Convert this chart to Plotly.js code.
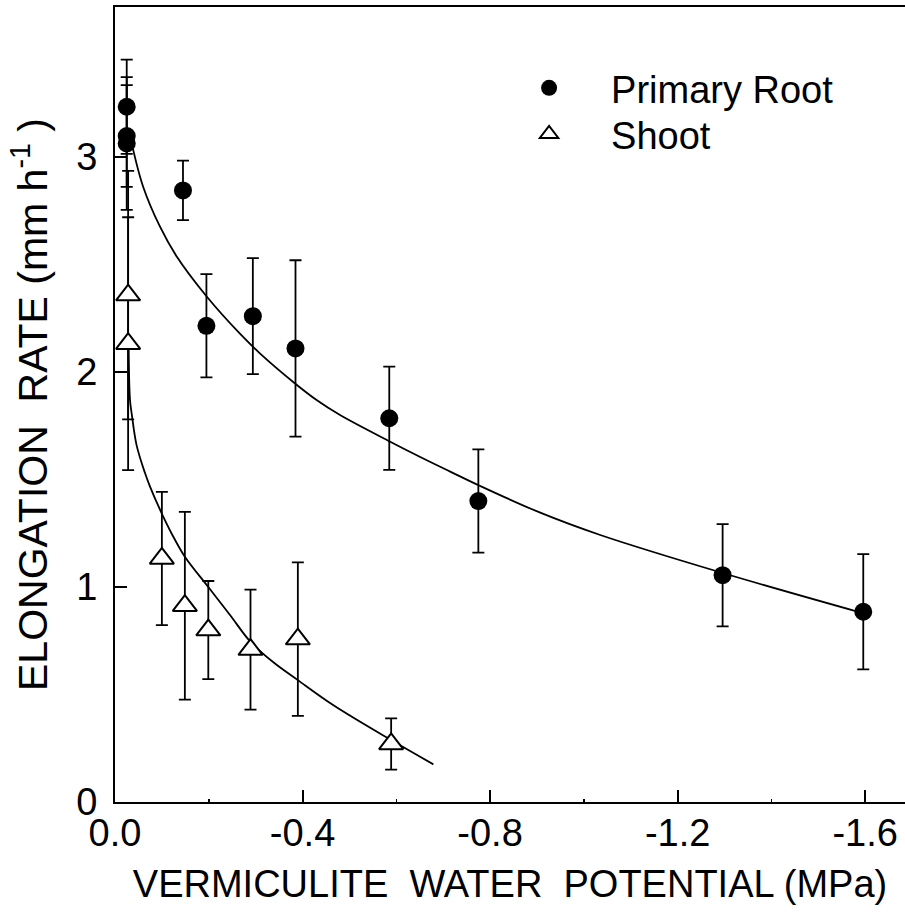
<!DOCTYPE html>
<html>
<head>
<meta charset="utf-8">
<script src="https://cdn.plot.ly/plotly-3.0.1.min.js"></script>
<style>
  html, body { margin: 0; padding: 0; background: #fff; }
  #chart { width: 905px; height: 921px; }
</style>
</head>
<body>
<div id="chart"></div>
<script>
// Primary root elongation rate vs. vermiculite water potential
const rootPsi = [-0.025, -0.025, -0.025, -0.145, -0.195, -0.294, -0.385, -0.585, -0.775, -1.296, -1.596];
const rootRate = [3.234, 3.098, 3.063, 2.845, 2.215, 2.26, 2.11, 1.785, 1.40, 1.055, 0.885];
const rootSE = [0.219, 0.237, 0.309, 0.138, 0.24, 0.27, 0.41, 0.24, 0.24, 0.238, 0.268];

// Shoot elongation rate
const shootPsi = [-0.028, -0.028, -0.10, -0.149, -0.199, -0.289, -0.39, -0.589];
const shootRate = [2.358, 2.132, 1.133, 0.913, 0.80, 0.709, 0.758, 0.270];
const shootSE = [0.578, 0.588, 0.31, 0.437, 0.228, 0.279, 0.357, 0.119];

// Fitted curves
const rootFitPsi = [-0.036, -0.06, -0.096, -0.132, -0.196, -0.267, -0.309, -0.384, -0.43, -0.48, -0.587, -0.651, -0.715, -0.779, -0.907, -1.035, -1.298, -1.596];
const rootFitRate = [3.06, 2.862, 2.676, 2.536, 2.35, 2.177, 2.087, 1.947, 1.87, 1.80, 1.676, 1.605, 1.537, 1.47, 1.346, 1.242, 1.064, 0.878];
const shootFitPsi = [-0.029, -0.032, -0.036, -0.046, -0.064, -0.0747, -0.0996, -0.1244, -0.149, -0.199, -0.2453, -0.289, -0.3378, -0.39, -0.466, -0.589, -0.679];
const shootFitRate = [2.13, 1.87, 1.80, 1.66, 1.53, 1.467, 1.343, 1.234, 1.141, 1.0, 0.87, 0.745, 0.65, 0.567, 0.45, 0.288, 0.175];

// Axis ticks
const xTickVals = [0, -0.4, -0.8, -1.2, -1.6];
const xTickText = ['0.0', '-0.4', '-0.8', '-1.2', '-1.6'];
const xMinorVals = [-0.2, -0.6, -1.0, -1.4];
const yTickVals = [0, 1, 2, 3];
const yTickText = ['0', '1', '2', '3'];

const FONT = 'Liberation Sans, Arial, Helvetica, sans-serif';
const NB = '\u00A0';

const traces = [
  {
    x: rootFitPsi, y: rootFitRate, mode: 'lines', showlegend: false, hoverinfo: 'skip',
    line: { color: '#000', width: 1.8, shape: 'spline', smoothing: 1 }
  },
  {
    x: shootFitPsi, y: shootFitRate, mode: 'lines', showlegend: false, hoverinfo: 'skip',
    line: { color: '#000', width: 1.8, shape: 'spline', smoothing: 1 }
  },
  {
    name: 'Primary Root', x: rootPsi, y: rootRate, mode: 'markers', legend: 'legend',
    marker: { symbol: 'circle', size: 18, color: '#000', line: { width: 0 } },
    error_y: { type: 'data', array: rootSE, visible: true, color: '#000', thickness: 1.8, width: 6 }
  },
  {
    name: 'Shoot', x: shootPsi, y: shootRate, mode: 'markers', legend: 'legend2',
    marker: { symbol: 'triangle-up', size: 21, color: '#fff', line: { color: '#000', width: 2 } },
    error_y: { type: 'data', array: shootSE, visible: true, color: '#000', thickness: 1.8, width: 6 }
  }
];

const legendBase = {
  x: 0.471, xanchor: 'left', yanchor: 'middle',
  bgcolor: 'rgba(0,0,0,0)', borderwidth: 0,
  font: { family: FONT, size: 38, color: '#000' },
  itemwidth: 114
};

const layout = {
  width: 905, height: 921,
  margin: { l: 115, r: 0, t: 7, b: 119 },
  paper_bgcolor: '#fff', plot_bgcolor: '#fff',
  font: { family: FONT, color: '#000', size: 38 },
  showlegend: true,
  legend: Object.assign({ y: 0.898 }, legendBase),
  legend2: Object.assign({ y: 0.840 }, legendBase),
  xaxis: {
    range: [0, -1.685], showgrid: false, zeroline: false,
    showline: true, linecolor: '#000', linewidth: 2, mirror: true,
    ticks: 'inside', ticklen: 12, tickwidth: 2, tickcolor: '#000',
    tickmode: 'array', tickvals: xTickVals, ticktext: xTickText,
    tickfont: { family: FONT, size: 38 }, ticklabelstandoff: -4,
    minor: { tickmode: 'array', tickvals: xMinorVals, ticks: 'inside', ticklen: 3, tickwidth: 1.5, tickcolor: '#000' },
    title: { text: 'VERMICULITE' + NB + ' WATER' + NB + ' POTENTIAL (MPa)', font: { family: FONT, size: 38 }, standoff: 18 }
  },
  yaxis: {
    range: [0, 3.698], showgrid: false, zeroline: false,
    showline: true, linecolor: '#000', linewidth: 2,
    ticks: 'inside', ticklen: 12, tickwidth: 2, tickcolor: '#000',
    tickmode: 'array', tickvals: yTickVals, ticktext: yTickText,
    tickfont: { family: FONT, size: 38 }, ticklabelstandoff: 8,
    title: {
      text: 'ELONGATION' + NB + ' RATE (mm' + NB + 'h<sup>-1</sup>' + NB + ')',
      font: { family: FONT, size: 41 }, standoff: 16
    }
  }
};

Plotly.newPlot('chart', traces, layout, { displayModeBar: false, staticPlot: true });
</script>
</body>
</html>
